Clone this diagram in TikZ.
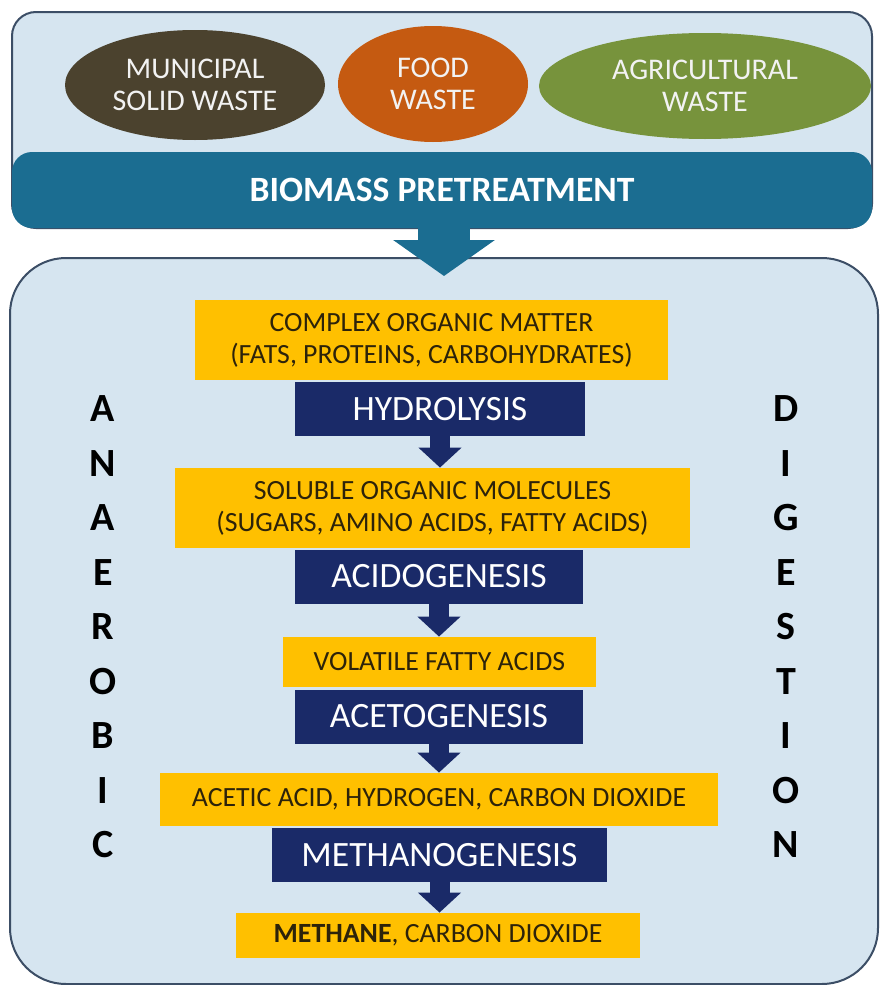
\documentclass[tikz,border=0pt]{standalone}
\usepackage{fontspec}
\setmainfont{Carlito}
\usetikzlibrary{arrows.meta,shapes.geometric}

\definecolor{paleblue}{RGB}{214,229,240}
\definecolor{frameline}{RGB}{60,78,102}
\definecolor{mswbrown}{RGB}{75,66,46}
\definecolor{foodorange}{RGB}{197,90,17}
\definecolor{agrigreen}{RGB}{119,147,60}
\definecolor{pretreatteal}{RGB}{27,109,145}
\definecolor{stagenavy}{RGB}{26,42,104}
\definecolor{ambergold}{RGB}{255,192,0}
\definecolor{darktext}{RGB}{45,35,10}

\begin{document}
\begin{tikzpicture}[x=0.5pt,y=-0.5pt,
    panel/.style={draw=frameline,line width=1pt,fill=paleblue},
    wasteblob/.style={ellipse,inner sep=0pt,text=white!95!black,align=center,
      font=\fontsize{15}{16}\selectfont},
    yellowbox/.style={fill=ambergold,inner sep=0pt,align=center,text=darktext,
      font=\fontsize{13.9}{16}\selectfont},
    stagebox/.style={fill=stagenavy,inner sep=0pt,text=white,
      font=\fontsize{17.8}{20}\selectfont,minimum height=27pt},
    stagearrow/.style={stagenavy,line width=10pt,-{Triangle[width=21pt,length=10pt]}},
    sideword/.style={align=center,font=\fontsize{20}{27.25}\selectfont\bfseries}]
    \useasboundingbox (0,0) rectangle (879,985);
    % feedstock panel
    \draw [panel,rounded corners=12pt] (12,12) rectangle (872,228);
    \node [wasteblob,fill=mswbrown,minimum width=130pt,minimum height=55pt]
      (msw) at (195,85) {MUNICIPAL\\SOLID WASTE};
    \node [wasteblob,fill=foodorange,minimum width=95pt,minimum height=58pt]
      (food) at (433,84) {FOOD\\WASTE};
    \node [wasteblob,fill=agrigreen,minimum width=166pt,minimum height=53pt]
      (agri) at (705,86) {AGRICULTURAL\\WASTE};
    \node [fill=pretreatteal,rounded corners=10pt,minimum width=430pt,minimum height=38pt,
      text=white,font=\fontsize{17.8}{20}\selectfont\bfseries]
      (pretreat) at (442,190) {BIOMASS PRETREATMENT};
    % digestion panel
    \draw [panel,rounded corners=28pt] (10,258) rectangle (878,984);
    \coordinate (feedtip) at (444,276);
    \draw [pretreatteal,line width=26pt,-{Triangle[width=50pt,length=18pt]}]
      (pretreat.south -| feedtip) -- (feedtip);
    % products
    \node [yellowbox,minimum width=236.5pt,minimum height=40pt]
      (complex) at (431.5,340) {COMPLEX ORGANIC MATTER\\(FATS, PROTEINS, CARBOHYDRATES)};
    \node [yellowbox,minimum width=257.5pt,minimum height=40pt]
      (soluble) at (432.5,508) {SOLUBLE ORGANIC MOLECULES\\(SUGARS, AMINO ACIDS, FATTY ACIDS)};
    \node [yellowbox,minimum width=156.5pt,minimum height=25pt]
      (vfa) at (439.5,662) {VOLATILE FATTY ACIDS};
    \node [yellowbox,minimum width=279pt,minimum height=26.5pt]
      (acetic) at (439,799.5) {ACETIC ACID, HYDROGEN, CARBON DIOXIDE};
    \node [yellowbox,minimum width=202pt,minimum height=22.5pt]
      (methane) at (438,935.5) {\textbf{METHANE}, CARBON DIOXIDE};
    % stages
    \node [stagebox,minimum width=145pt] (hydro) at (440,409) {HYDROLYSIS};
    \node [stagebox,minimum width=144pt] (acido) at (439,576.5) {ACIDOGENESIS};
    \node [stagebox,minimum width=144pt] (aceto) at (439,716.5) {ACETOGENESIS};
    \node [stagebox,minimum width=167.5pt] (metha) at (439.5,855) {METHANOGENESIS};
    \draw [stagearrow] (hydro.south) -- (hydro.south |- soluble.north);
    \draw [stagearrow] (acido.south) -- (acido.south |- vfa.north);
    \draw [stagearrow] (aceto.south) -- (aceto.south |- acetic.north);
    \draw [stagearrow] (metha.south) -- (metha.south |- methane.north);
    % side titles
    \node [sideword] (anaerobic) at (103,627) {A\\N\\A\\E\\R\\O\\B\\I\\C};
    \node [sideword] (digestion) at (786,627) {D\\I\\G\\E\\S\\T\\I\\O\\N};
\end{tikzpicture}
\end{document}
